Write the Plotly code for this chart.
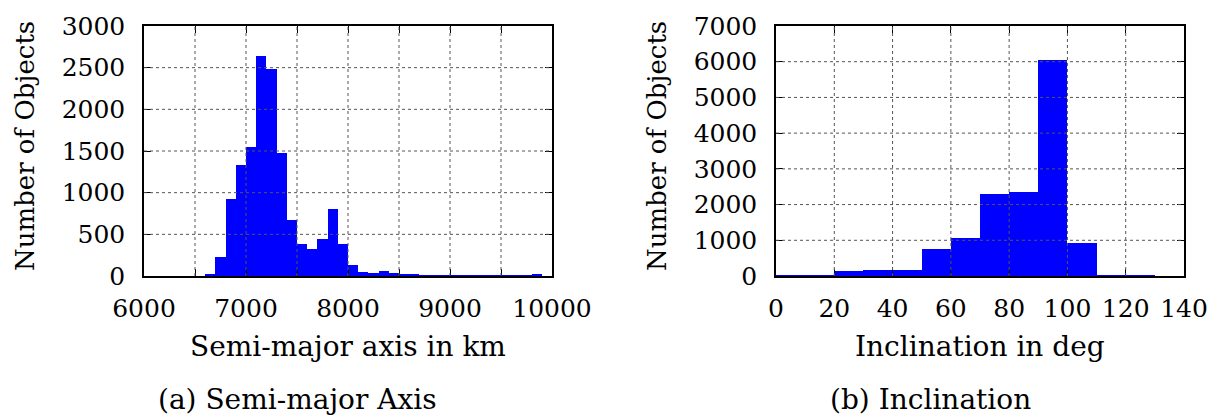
import plotly.graph_objects as go

# ---------------- data ----------------
sma_bin_start = [6600, 6700, 6800, 6900, 7000, 7100, 7200, 7300, 7400, 7500,
                 7600, 7700, 7800, 7900, 8000, 8100, 8200, 8300, 8400, 8500,
                 8600, 8700, 8800, 8900, 9000, 9100, 9200, 9300, 9400, 9500,
                 9600, 9700, 9800]
sma_counts = [20, 228, 924, 1332, 1552, 2640, 2488, 1476, 668, 380,
              328, 444, 800, 380, 132, 52, 32, 56, 32, 20,
              24, 12, 12, 8, 12, 8, 8, 12, 8, 12,
              12, 8, 16]
sma_bin_width = 100

inc_bin_start = [0, 10, 20, 30, 40, 50, 60, 70, 80, 90, 100, 110, 120]
inc_counts = [15, 15, 140, 168, 159, 756, 1073, 2305, 2343, 6039, 933, 10, 8]
inc_bin_width = 10

sma_xticks = [6000, 6500, 7000, 7500, 8000, 8500, 9000, 9500, 10000]
sma_xlabels = ["6000", "", "7000", "", "8000", "", "9000", "", "10000"]
sma_yticks = [0, 500, 1000, 1500, 2000, 2500, 3000]
inc_xticks = [0, 20, 40, 60, 80, 100, 120, 140]
inc_yticks = [0, 1000, 2000, 3000, 4000, 5000, 6000, 7000]

# ---------------- figure ----------------
W, H = 1216, 419
OFF = 8  # page body margin
FONT = "DejaVu Serif"
FS = 25
FS_T = 28
FS_Y = 26

fig = go.Figure()
fig.add_trace(go.Bar(
    x=[s + sma_bin_width / 2 for s in sma_bin_start], y=sma_counts,
    width=sma_bin_width, marker=dict(color="#0000ff", line=dict(width=0)),
    xaxis="x", yaxis="y", showlegend=False))
fig.add_trace(go.Bar(
    x=[s + inc_bin_width / 2 for s in inc_bin_start], y=inc_counts,
    width=inc_bin_width, marker=dict(color="#0000ff", line=dict(width=0)),
    xaxis="x2", yaxis="y2", showlegend=False))

def px_x(p):
    return (p - OFF) / W

def px_y(p):
    return 1 - (p - OFF) / H

ax_common = dict(showline=True, linecolor="black", linewidth=1.5, mirror="ticks",
                 ticks="inside", ticklen=7, tickcolor="black", tickwidth=1.2,
                 showgrid=False, zeroline=False, automargin=False,
                 tickfont=dict(family=FONT, size=FS, color="black"))

fig.update_layout(
    width=W, height=H,
    margin=dict(l=0, r=0, t=0, b=0),
    paper_bgcolor="white", plot_bgcolor="white",
    bargap=0,
    xaxis=dict(domain=[px_x(144), px_x(552)], range=[6000, 10000], anchor="y",
               tickmode="array", tickvals=sma_xticks, ticktext=sma_xlabels,
               ticklabelstandoff=9, **ax_common),
    yaxis=dict(domain=[px_y(276), px_y(26)], range=[0, 3000], anchor="x",
               tickmode="array", tickvals=sma_yticks, ticklabelstandoff=12, **ax_common),
    xaxis2=dict(domain=[px_x(776), px_x(1184)], range=[0, 140], anchor="y2",
                tickmode="array", tickvals=inc_xticks, ticklabelstandoff=9, **ax_common),
    yaxis2=dict(domain=[px_y(276), px_y(26)], range=[0, 7000], anchor="x2",
                tickmode="array", tickvals=inc_yticks, ticklabelstandoff=12, **ax_common),
)

# dotted grid drawn above the bars
grid_line = dict(color="#555555", width=1, dash="dot")
shapes = []
for v in sma_xticks[1:-1]:
    shapes.append(dict(type="line", xref="x", yref="y domain", x0=v, x1=v, y0=0, y1=1,
                       line=grid_line, layer="above"))
for v in sma_yticks[1:-1]:
    shapes.append(dict(type="line", xref="x domain", yref="y", x0=0, x1=1, y0=v, y1=v,
                       line=grid_line, layer="above"))
for v in inc_xticks[1:-1]:
    shapes.append(dict(type="line", xref="x2", yref="y2 domain", x0=v, x1=v, y0=0, y1=1,
                       line=grid_line, layer="above"))
for v in inc_yticks[1:-1]:
    shapes.append(dict(type="line", xref="x2 domain", yref="y2", x0=0, x1=1, y0=v, y1=v,
                       line=grid_line, layer="above"))
fig.update_layout(shapes=shapes)

tf = dict(family=FONT, size=FS_T, color="black")
tfy = dict(family=FONT, size=FS_Y, color="black")
annotations = [
    dict(text="Number of Objects", x=px_x(25), y=px_y(146), textangle=-90, font=tfy),
    dict(text="Number of Objects", x=px_x(657), y=px_y(146), textangle=-90, font=tfy),
    dict(text="Semi-major axis in km", x=px_x(348), y=px_y(346), font=tf),
    dict(text="Inclination in deg", x=px_x(980), y=px_y(346), font=tf),
    dict(text="(a) Semi-major Axis", x=px_x(297), y=px_y(399), font=tf),
    dict(text="(b) Inclination", x=px_x(930), y=px_y(399), font=tf),
]
for a in annotations:
    a.update(xref="paper", yref="paper", showarrow=False,
             xanchor="center", yanchor="middle")
fig.update_layout(annotations=annotations)

fig.write_html("out.html")
